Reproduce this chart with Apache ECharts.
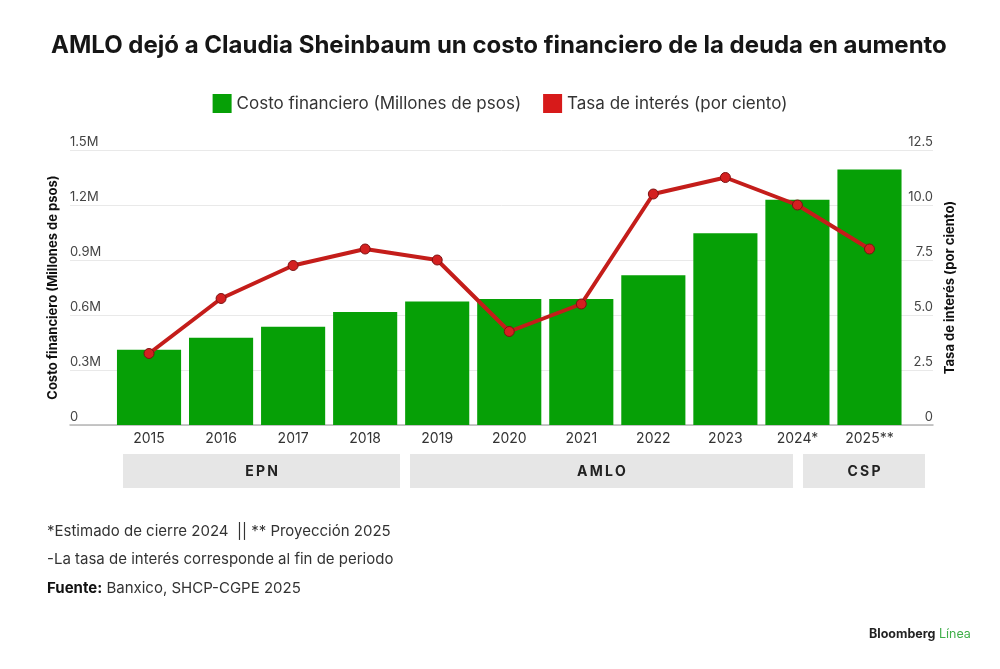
<!DOCTYPE html>
<html>
<head>
<meta charset="utf-8">
<script src="https://cdn.jsdelivr.net/npm/echarts@6/dist/echarts.min.js"></script>
<style>
  html, body { margin: 0; padding: 0; background: #fff; }
  #chart { width: 1000px; height: 669px; }
</style>
</head>
<body>
<div id="chart"></div>
<script>
// data
const years = ['2015', '2016', '2017', '2018', '2019', '2020', '2021', '2022', '2023', '2024*', '2025**'];
const costo = [0.41, 0.476, 0.536, 0.616, 0.673, 0.687, 0.687, 0.817, 1.046, 1.229, 1.393]; // millones de millones
const tasa = [3.25, 5.75, 7.25, 8.0, 7.5, 4.25, 5.5, 10.5, 11.25, 10.0, 8.0];
const periods = ['EPN', 'AMLO', 'CSP'];
const notes = [
  '*Estimado de cierre 2024  || ** Proyección 2025',
  '-La tasa de interés corresponde al fin de periodo'
];

const FONT = 'Inter, "Noto Sans", sans-serif';
const GREEN = '#06a006';
const RED = '#c41d1a';

var myChart = echarts.init(document.getElementById('chart'));

// boxes under the x axis, one per government
const boxX = [[123, 400], [410, 793], [803, 925]];
const boxes = periods.map(function (p, i) {
  return {
    type: 'group',
    children: [
      { type: 'rect', shape: { x: boxX[i][0], y: 454, width: boxX[i][1] - boxX[i][0], height: 34 },
        style: { fill: '#e6e6e6' } },
      { type: 'text', x: (boxX[i][0] + boxX[i][1]) / 2, y: 472,
        style: { text: p.split('').join('\u2009'), font: 'bold 14px ' + FONT, fill: '#222',
                 align: 'center', verticalAlign: 'middle' } }
    ]
  };
});

const option = {
  backgroundColor: '#fff',
  animation: false,
  textStyle: { fontFamily: FONT },
  title: {
    text: 'AMLO dejó a Claudia Sheinbaum un costo financiero de la deuda en aumento',
    left: 46, top: 29,
    textStyle: { fontSize: 24, fontWeight: 'bold', color: '#161616', fontFamily: FONT }
  },
  legend: {
    top: 89, left: 'center',
    itemWidth: 19, itemHeight: 19, itemGap: 22,
    textStyle: { fontSize: 17, color: '#333' },
    data: [
      { name: 'Costo financiero (Millones de psos)', icon: 'rect', itemStyle: { color: GREEN } },
      { name: 'Tasa de interés (por ciento)', icon: 'rect',
        itemStyle: { color: '#d71a1a', borderWidth: 0 } }
    ]
  },
  grid: [
    { left: 70, right: 67, top: 150, bottom: 244 },      // gridlines + labels
    { left: 113, right: 94.5, top: 150, bottom: 244 }    // bars + line
  ],
  xAxis: [
    { gridIndex: 0, type: 'value', min: 0, max: 1, show: true,
      axisLine: { show: true, lineStyle: { color: '#b5b5b5', width: 1.5 } },
      axisTick: { show: false }, axisLabel: { show: false }, splitLine: { show: false } },
    { gridIndex: 1, type: 'category', data: years,
      axisLine: { show: false }, axisTick: { show: false },
      axisLabel: { color: '#333', fontSize: 14, margin: 7 } }
  ],
  yAxis: [
    { gridIndex: 0, type: 'value', min: 0, max: 1.5, interval: 0.3,
      name: 'Costo financiero (Millones de psos)', nameLocation: 'middle', nameRotate: 90, nameGap: 10,
      nameTextStyle: { fontSize: 13, fontWeight: 'bold', color: '#111' },
      axisLine: { show: false }, axisTick: { show: false },
      axisLabel: { inside: true, margin: 0, color: '#444', fontSize: 13, verticalAlign: 'bottom',
                   padding: [0, 0, 1, 0],
                   formatter: function (v) { return v === 0 ? '0' : v.toFixed(1) + 'M'; } },
      splitLine: { lineStyle: { color: '#e9e9e9' } } },
    { gridIndex: 0, type: 'value', position: 'right', min: 0, max: 12.5, interval: 2.5,
      name: 'Tasa de interés (por ciento)', nameLocation: 'middle', nameRotate: 90, nameGap: 11,
      nameTextStyle: { fontSize: 13, fontWeight: 'bold', color: '#111' },
      axisLine: { show: false }, axisTick: { show: false },
      axisLabel: { inside: true, margin: 0, color: '#444', fontSize: 13, verticalAlign: 'bottom',
                   padding: [0, 0, 1, 0],
                   formatter: function (v) { return v === 0 ? '0' : v.toFixed(1); } },
      splitLine: { show: false } },
    { gridIndex: 1, type: 'value', min: 0, max: 1.5, show: false },
    { gridIndex: 1, type: 'value', min: 0, max: 12.5, show: false, position: 'right' }
  ],
  series: [
    { name: 'Costo financiero (Millones de psos)', type: 'bar', xAxisIndex: 1, yAxisIndex: 2,
      data: costo, barCategoryGap: '11%', itemStyle: { color: GREEN } },
    { name: 'Tasa de interés (por ciento)', type: 'line', xAxisIndex: 1, yAxisIndex: 3,
      data: tasa, symbol: 'circle', symbolSize: 10,
      lineStyle: { color: RED, width: 4 },
      itemStyle: { color: '#d42020', borderColor: '#7d1212', borderWidth: 1 } }
  ],
  graphic: boxes.concat([
    { type: 'text', left: 47, top: 524,
      style: { text: notes[0], font: '15px ' + FONT, fill: '#333' } },
    { type: 'text', left: 47, top: 552,
      style: { text: notes[1], font: '15px ' + FONT, fill: '#333' } },
    { type: 'text', left: 47, top: 581,
      style: { text: '{b|Fuente:} Banxico, SHCP-CGPE 2025', font: '15px ' + FONT, fill: '#333',
               rich: { b: { fontWeight: 'bold', fontSize: 15, fontFamily: FONT, fill: '#111' } } } },
    { type: 'text', left: 869, top: 628,
      style: { text: '{a|Bloomberg} {g|Línea}', font: '12.5px ' + FONT,
               rich: { a: { fontWeight: 'bold', fontSize: 12.5, fontFamily: FONT, fill: '#222' },
                       g: { fontSize: 12.5, fontFamily: FONT, fill: '#3fae49' } } } }
  ])
};

myChart.setOption(option);
</script>
</body>
</html>
